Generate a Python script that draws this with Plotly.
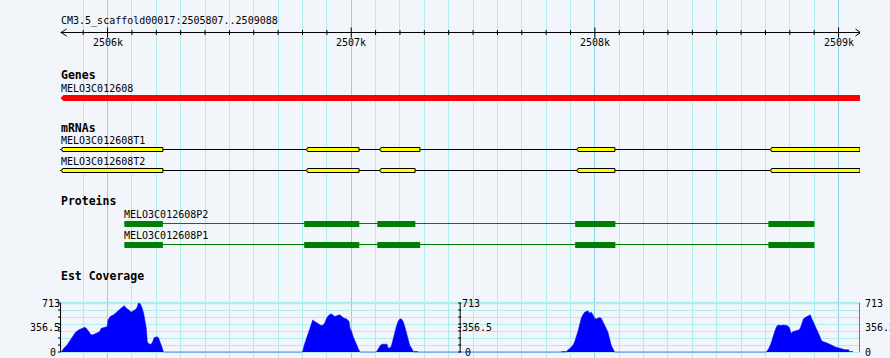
import plotly.graph_objects as go

# ---------------- data ----------------
region_title = "CM3.5_scaffold00017:2505807..2509088"
region_start = 2505807
region_end = 2509088

ruler_major = [2506000, 2507000, 2508000, 2509000]
ruler_labels = ["2506k", "2507k", "2508k", "2509k"]
ruler_minor = list(range(2505900, 2509001, 100))

gene_name = "MELO3C012608"
gene_span = [2505807, 2509088]

mrna_names = ["MELO3C012608T1", "MELO3C012608T2"]
mrna_starts = [[2505807, 2506813, 2507114, 2507923, 2508717],
               [2505807, 2506813, 2507114, 2507923, 2508717]]
mrna_ends = [[2506227, 2507032, 2507282, 2508082, 2509088],
             [2506227, 2507032, 2507262, 2508082, 2509088]]

protein_names = ["MELO3C012608P2", "MELO3C012608P1"]
protein_starts = [[2506069, 2506807, 2507107, 2507919, 2508712],
                  [2506069, 2506807, 2507107, 2507919, 2508712]]
protein_ends = [[2506227, 2507033, 2507263, 2508084, 2508901],
                [2506227, 2507033, 2507283, 2508084, 2508901]]

cov_max = 713
cov_tick_vals = [713, 356.5, 0]
cov_tick_labels = ["713", "356.5", "0"]
cov_axis_pos = [2505807, 2507447, 2509088]

cov1_pos = [2505808, 2505813, 2505819, 2505833, 2505847, 2505860, 2505867, 2505881, 2505895, 2505906,
            2505913, 2505922, 2505933, 2505943, 2505956, 2505967, 2505974, 2505988, 2505998, 2506002,
            2506011, 2506025, 2506032, 2506045, 2506059, 2506069, 2506076, 2506086, 2506097, 2506107,
            2506114, 2506121, 2506127, 2506134, 2506141, 2506148, 2506155, 2506159, 2506163, 2506168,
            2506178, 2506185, 2506192, 2506203, 2506209, 2506216, 2506223, 2506227, 2506230]
cov1_val = [0, 10, 49, 98, 172, 246, 280, 320, 344, 359,
            344, 305, 246, 256, 280, 295, 344, 354, 369, 467,
            516, 541, 565, 615, 649, 674, 639, 615, 580, 605,
            615, 649, 713, 703, 649, 565, 443, 344, 148, 123,
            108, 148, 211, 221, 206, 148, 74, 25, 0]
cov2_pos = [2506800, 2506803, 2506807, 2506814, 2506821, 2506828, 2506835, 2506842, 2506847, 2506855,
            2506865, 2506876, 2506885, 2506892, 2506899, 2506906, 2506917, 2506924, 2506933, 2506944,
            2506954, 2506961, 2506971, 2506981, 2506991, 2506995, 2507002, 2507008, 2507015, 2507022,
            2507029, 2507036]
cov2_val = [0, 49, 98, 172, 246, 320, 393, 467, 452, 433,
            403, 384, 393, 428, 492, 526, 556, 541, 516, 531,
            541, 516, 492, 482, 443, 344, 295, 221, 172, 108,
            49, 0]
cov3_pos = [2507103, 2507106, 2507113, 2507120, 2507127, 2507140, 2507147, 2507151, 2507158, 2507165,
            2507172, 2507178, 2507185, 2507192, 2507199, 2507206, 2507213, 2507220, 2507227, 2507233,
            2507240, 2507247, 2507254, 2507256]
cov3_val = [0, 25, 59, 98, 113, 113, 113, 59, 59, 88,
            197, 295, 369, 443, 482, 482, 443, 369, 271, 172,
            98, 59, 25, 0]
cov4_pos = [2507885, 2507887, 2507896, 2507903, 2507910, 2507917, 2507924, 2507930, 2507937, 2507944,
            2507951, 2507958, 2507965, 2507971, 2507978, 2507985, 2507992, 2507999, 2508006, 2508012,
            2508019, 2508026, 2508033, 2508040, 2508047, 2508053, 2508060, 2508067, 2508074, 2508081]
cov4_val = [0, 25, 49, 74, 98, 148, 221, 295, 393, 492,
            541, 580, 590, 600, 565, 580, 541, 492, 482, 492,
            502, 492, 443, 393, 344, 295, 197, 98, 49, 0]
cov5_pos = [2508703, 2508706, 2508713, 2508720, 2508727, 2508733, 2508740, 2508747, 2508754, 2508761,
            2508774, 2508788, 2508795, 2508799, 2508805, 2508812, 2508823, 2508836, 2508843, 2508850,
            2508856, 2508863, 2508870, 2508877, 2508884, 2508888, 2508895, 2508902, 2508909, 2508916,
            2508922, 2508929, 2508938, 2508948, 2508959, 2508973, 2508986, 2509000, 2509014, 2509027,
            2509041, 2509046]
cov5_val = [0, 10, 49, 98, 172, 246, 320, 379, 393, 384,
            393, 384, 369, 344, 271, 295, 310, 320, 344, 418,
            482, 502, 516, 531, 541, 502, 452, 393, 344, 295,
            236, 172, 148, 138, 123, 98, 74, 59, 39, 34,
            34, 0]
low_cov_starts = [2505807, 2507256, 2507862, 2509046]
low_cov_ends = [2505813, 2507274, 2507887, 2509059]
low_cov_level = 15

# ---------------- style / layout constants ----------------
W, H = 890, 358
BG = "#F2F5FA"
GRID_MINOR = "#AEEEEE"
GRID_MAJOR = "#8FD0EA"
FONT = "DejaVu Sans Mono"
BP_PER_PX = 4.104
ML, MR = 58, 30
x_range = [region_end - (W - ML - MR) * BP_PER_PX, region_end]

Y_TITLE, Y_RULER, Y_RULER_LBL = 20.5, 32.5, 42.5
Y_GENES_T, Y_GENE_LBL, GENE_Y0, GENE_Y1 = 75.3, 88.7, 95, 101
Y_MRNA_T = 128
MRNA_LBL_Y = [140.2, 161.2]
MRNA_C = [149.5, 170.5]
Y_PROT_T = 201.3
PROT_LBL_Y = [214, 235]
PROT_BOX = [(221, 227), (242, 248)]
PROT_LINE = [223.5, 244.5]
Y_COV_T = 276.2
# coverage sub-axis: 713 -> px 303, 0 -> px 352, domain px 300..355
cov_px = 49.0
dom_top, dom_bot = 300, 355
y2_range = [-(dom_bot - 352) * cov_max / cov_px, cov_max + (303 - dom_top) * cov_max / cov_px]
y2_domain = [(H - dom_bot) / H, (H - dom_top) / H]

NOTCH = 8      # bp
ARROW = 12     # bp

fig = go.Figure()
shapes = []
annotations = []


def label(x, y, text, bold=False, xanchor="left", yref="y", xshift=0):
    annotations.append(dict(
        x=x, y=y, xref="x", yref=yref, text=text, showarrow=False,
        xanchor=xanchor, yanchor="middle", borderpad=0, borderwidth=0, xshift=xshift,
        font=dict(family=FONT, size=11.5 if bold else 10, color="black",
                  weight="bold" if bold else "normal")))


# ---- ruler ----
label(region_start, Y_TITLE, region_title)
shapes.append(dict(type="line", xref="x", yref="y", x0=region_start, x1=region_end,
                   y0=Y_RULER, y1=Y_RULER, line=dict(color="black", width=1)))
shapes.append(dict(type="path", xref="x", yref="y", xsizemode="pixel", xanchor=region_start,
                   path=f"M 6,{Y_RULER-3.5} L 0.5,{Y_RULER} L 6,{Y_RULER+3.5}",
                   line=dict(color="black", width=1)))
shapes.append(dict(type="path", xref="x", yref="y", xsizemode="pixel", xanchor=region_end,
                   path=f"M -4.5,{Y_RULER-3.5} L 0.5,{Y_RULER} L -4.5,{Y_RULER+3.5}",
                   line=dict(color="black", width=1)))
for t in ruler_minor:
    major = t in ruler_major
    shapes.append(dict(type="line", xref="x", yref="y", x0=t, x1=t,
                       y0=Y_RULER - (5 if major else 2.5), y1=Y_RULER + (5 if major else 2.5),
                       line=dict(color="black", width=1)))
for t, s in zip(ruler_major, ruler_labels):
    label(t, Y_RULER_LBL, s, xanchor="center")

# ---- genes ----
label(region_start, Y_GENES_T, "Genes", bold=True)
label(gene_span[0], Y_GENE_LBL, gene_name)
gm = (GENE_Y0 + GENE_Y1) / 2
shapes.append(dict(type="path", xref="x", yref="y",
                   path=(f"M {gene_span[0]},{gm} L {gene_span[0]+ARROW},{GENE_Y0} "
                         f"L {gene_span[1]},{GENE_Y0} L {gene_span[1]},{GENE_Y1} "
                         f"L {gene_span[0]+ARROW},{GENE_Y1} Z"),
                   fillcolor="#FF0000", line=dict(width=0)))

# ---- mRNAs ----
label(region_start, Y_MRNA_T, "mRNAs", bold=True)
for name, starts, ends, ly, c in zip(mrna_names, mrna_starts, mrna_ends, MRNA_LBL_Y, MRNA_C):
    label(starts[0], ly, name)
    fig.add_trace(go.Scatter(x=[starts[0], ends[-1]], y=[c, c], mode="lines",
                             line=dict(color="black", width=1), hoverinfo="skip", showlegend=False))
    for s, e in zip(starts, ends):
        p = (f"M {s},{c} L {s+NOTCH},{c-1} L {s+NOTCH},{c-2} L {e},{c-2} L {e},{c+2} "
             f"L {s+NOTCH},{c+2} L {s+NOTCH},{c+1} Z")
        shapes.append(dict(type="path", xref="x", yref="y", path=p, fillcolor="#FFFF00",
                           line=dict(color="black", width=1)))

# ---- proteins ----
label(region_start, Y_PROT_T, "Proteins", bold=True)
for name, starts, ends, ly, (b0, b1), lc in zip(protein_names, protein_starts, protein_ends,
                                                 PROT_LBL_Y, PROT_BOX, PROT_LINE):
    label(starts[0], ly, name)
    fig.add_trace(go.Scatter(x=[starts[0], ends[-1]], y=[lc, lc], mode="lines",
                             line=dict(color="#008000", width=1), hoverinfo="skip", showlegend=False))
    for s, e in zip(starts, ends):
        shapes.append(dict(type="rect", xref="x", yref="y", x0=s, x1=e, y0=b0, y1=b1,
                           fillcolor="#008000", line=dict(width=0)))

# ---- EST coverage ----
label(region_start, Y_COV_T, "Est Coverage", bold=True)
cov_x, cov_y = [], []
for px_, pv_ in [(cov1_pos, cov1_val), (cov2_pos, cov2_val), (cov3_pos, cov3_val),
                 (cov4_pos, cov4_val), (cov5_pos, cov5_val)]:
    cov_x += px_
    cov_y += pv_
fig.add_trace(go.Scatter(x=cov_x, y=cov_y, yaxis="y2", mode="lines", fill="tozeroy",
                         fillcolor="#0000FF", line=dict(color="#0000FF", width=0.5),
                         hoverinfo="skip", showlegend=False))
for s, e in zip(low_cov_starts, low_cov_ends):
    shapes.append(dict(type="rect", xref="x", yref="y2", x0=s, x1=e, y0=0, y1=low_cov_level,
                       fillcolor="#FF0000", line=dict(width=0)))
# coverage frame lines
shapes.append(dict(type="line", xref="x", yref="y2", x0=x_range[0], x1=region_end,
                   y0=cov_max, y1=cov_max, layer="below", line=dict(color=GRID_MINOR, width=2.5)))
shapes.append(dict(type="line", xref="x", yref="y2", x0=x_range[0], x1=region_end,
                   y0=-0.5 * cov_max / cov_px, y1=-0.5 * cov_max / cov_px, layer="below",
                   line=dict(color=GRID_MAJOR, width=1)))
minor_ticks = [cov_max * k / 7 for k in range(8)] + [cov_max / 2]
for i, ax in enumerate(cov_axis_pos):
    shapes.append(dict(type="line", xref="x", yref="y2", x0=ax, x1=ax, y0=0, y1=cov_max,
                       line=dict(color="black", width=1)))
    if i == 0:
        tx0, tx1 = -3, 0
    elif i == 1:
        tx0, tx1 = -2, 1
    else:
        tx0, tx1 = 0, 3
    for v in minor_ticks:
        shapes.append(dict(type="line", xref="x", yref="y2", xsizemode="pixel", xanchor=ax,
                           x0=tx0, x1=tx1, y0=v, y1=v, line=dict(color="black", width=1)))
    for v, s in zip(cov_tick_vals, cov_tick_labels):
        if i == 0:
            label(ax, v, s, xanchor="right", yref="y2", xshift=(-5 if v == 0 else -1))
        elif i == 1:
            label(ax, v, s, xanchor="left", yref="y2", xshift=(5 if v == 0 else 2))
        else:
            label(ax, v, s, xanchor="left", yref="y2", xshift=5)

fig.update_layout(
    width=W, height=H,
    margin=dict(l=ML, r=MR, t=0, b=0, pad=0),
    paper_bgcolor=BG, plot_bgcolor="rgba(0,0,0,0)",
    showlegend=False, hovermode=False,
    shapes=shapes, annotations=annotations,
    xaxis=dict(range=x_range, tick0=2506000, dtick=1000, showgrid=True, gridcolor=GRID_MAJOR,
               gridwidth=1, showticklabels=False, ticks="", zeroline=False, showline=False,
               fixedrange=True,
               minor=dict(tick0=2506000, dtick=100, showgrid=True, gridcolor=GRID_MINOR,
                          gridwidth=1, ticks="")),
    yaxis=dict(range=[H, 0], domain=[0, 1], visible=False, fixedrange=True),
    yaxis2=dict(range=y2_range, domain=y2_domain, anchor="x", showgrid=True,
                gridcolor=GRID_MINOR, gridwidth=1, tick0=0, dtick=cov_max / 7,
                showticklabels=False, ticks="", zeroline=False, showline=False, fixedrange=True),
)

fig.write_html(
    "out.html",
    config={"displayModeBar": False, "staticPlot": True},
    post_script="document.body.style.margin='0px';document.body.style.overflow='hidden';"
                "document.body.style.background='" + BG + "';",
)
